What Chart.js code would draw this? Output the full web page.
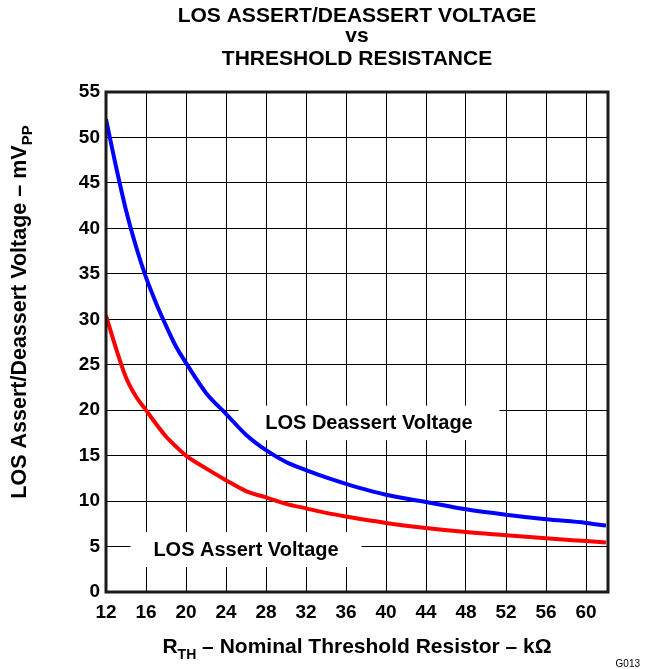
<!DOCTYPE html>
<html>
<head>
<meta charset="utf-8">
<script src="https://cdn.jsdelivr.net/npm/chart.js@4/dist/chart.umd.min.js"></script>
<style>
  html, body { margin: 0; padding: 0; background: #fff; }
  #wrap { width: 649px; height: 669px; }
</style>
</head>
<body>
<div id="wrap"><canvas id="losChart" width="649" height="669"></canvas></div>
<script>
// values (kOhm, mVpp)
const resistance = [12, 13, 14, 15, 16, 17, 18, 19, 20, 22, 24, 26, 28, 30, 32, 34, 36, 40, 44, 48, 52, 56, 60, 62];
const deassertVoltage = [52.0, 46.8, 42.0, 38.0, 34.6, 31.8, 29.3, 27.0, 25.2, 21.9, 19.6, 17.3, 15.6, 14.3, 13.4, 12.6, 11.9, 10.7, 9.9, 9.1, 8.5, 8.0, 7.6, 7.3];
const assertVoltage = [30.4, 26.8, 23.6, 21.5, 20.0, 18.5, 17.1, 16.0, 15.0, 13.6, 12.3, 11.1, 10.4, 9.7, 9.2, 8.7, 8.3, 7.6, 7.05, 6.6, 6.25, 5.9, 5.6, 5.45];
const titleLines = ["LOS ASSERT/DEASSERT VOLTAGE", "vs", "THRESHOLD RESISTANCE"];

const FONT = '"Liberation Sans", Arial, sans-serif';

function toPoints(xs, ys) {
  return xs.map((x, i) => ({ x: x, y: ys[i] }));
}

// draws text made of normal + subscript parts, centred on x
function richText(ctx, parts, x, y, size) {
  const subSize = Math.round(size * 0.68);
  let total = 0;
  parts.forEach(p => {
    ctx.font = `bold ${p.sub ? subSize : size}px ${FONT}`;
    p.w = ctx.measureText(p.t).width;
    total += p.w;
  });
  let cx = x - total / 2;
  ctx.textAlign = 'left';
  ctx.textBaseline = 'alphabetic';
  parts.forEach(p => {
    ctx.font = `bold ${p.sub ? subSize : size}px ${FONT}`;
    ctx.fillText(p.t, cx, p.sub ? y + size * 0.28 : y);
    cx += p.w;
  });
}

const decorations = {
  id: 'decorations',
  beforeDatasetsDraw(chart) {
    const { ctx, scales: { x, y } } = chart;
    // label boxes that cut the grid
    const labels = [
      { text: 'LOS Deassert Voltage', x0: 25.25, x1: 51.35, y0: 16.7, y1: 20.5 },
      { text: 'LOS Assert Voltage', x0: 14.45, x1: 37.55, y0: 2.75, y1: 6.6 }
    ];
    ctx.save();
    labels.forEach(l => {
      const left = x.getPixelForValue(l.x0), right = x.getPixelForValue(l.x1);
      const top = y.getPixelForValue(l.y1), bottom = y.getPixelForValue(l.y0);
      ctx.fillStyle = '#fff';
      ctx.fillRect(left, top, right - left, bottom - top);
      ctx.fillStyle = '#000';
      ctx.font = `bold 20px ${FONT}`;
      ctx.textAlign = 'center';
      ctx.textBaseline = 'middle';
      ctx.fillText(l.text, (left + right) / 2, (top + bottom) / 2 + 1);
    });
    ctx.restore();
  },
  afterDraw(chart) {
    const { ctx, chartArea: a } = chart;
    ctx.save();
    // frame
    ctx.strokeStyle = '#1a1a1a';
    ctx.lineWidth = 3;
    ctx.strokeRect(a.left, a.top, a.right - a.left, a.bottom - a.top);

    ctx.fillStyle = '#000';
    const cx = (a.left + a.right) / 2;
    // title
    ctx.font = `bold 21px ${FONT}`;
    ctx.textAlign = 'center';
    ctx.textBaseline = 'alphabetic';
    ctx.fillText(titleLines[0], cx, 22);
    ctx.fillText(titleLines[1], cx, 42);
    ctx.fillText(titleLines[2], cx, 65);

    // x axis title
    richText(ctx, [
      { t: 'R' }, { t: 'TH', sub: true },
      { t: ' \u2013 Nominal Threshold Resistor \u2013 k\u03A9' }
    ], cx, 653, 21);

    // y axis title
    ctx.save();
    ctx.translate(26, 312);
    ctx.rotate(-Math.PI / 2);
    richText(ctx, [
      { t: 'LOS Assert/Deassert Voltage \u2013 mV' }, { t: 'PP', sub: true }
    ], 0, 0, 21.5);
    ctx.restore();

    // figure id
    ctx.font = `10px ${FONT}`;
    ctx.textAlign = 'right';
    ctx.fillText('G013', 640, 667);
    ctx.restore();
  }
};

const ctx = document.getElementById('losChart').getContext('2d');
const chart = new Chart(ctx, {
  type: 'line',
  data: {
    datasets: [
      {
        label: 'LOS Deassert Voltage',
        data: toPoints(resistance, deassertVoltage),
        borderColor: '#0000ff',
        borderWidth: 4,
        pointRadius: 0,
        cubicInterpolationMode: 'monotone'
      },
      {
        label: 'LOS Assert Voltage',
        data: toPoints(resistance, assertVoltage),
        borderColor: '#ff0000',
        borderWidth: 4,
        pointRadius: 0,
        cubicInterpolationMode: 'monotone'
      }
    ]
  },
  options: {
    responsive: false,
    animation: false,
    layout: { padding: { left: 0, right: 41, top: 92, bottom: 37 } },
    plugins: {
      legend: { display: false },
      title: { display: false },
      tooltip: { enabled: false }
    },
    scales: {
      x: {
        type: 'linear',
        min: 12,
        max: 62.2,
        afterFit: s => { s.height = 40; },
        ticks: {
          stepSize: 4,
          includeBounds: false,
          color: '#000',
          padding: 9,
          maxRotation: 0,
          font: { family: FONT, size: 19, weight: 'bold' }
        },
        grid: { color: '#000', lineWidth: 1, drawTicks: false },
        border: { display: false }
      },
      y: {
        min: 0,
        max: 55,
        afterFit: s => { s.width = 106; },
        ticks: {
          stepSize: 5,
          color: '#000',
          padding: 6,
          font: { family: FONT, size: 19, weight: 'bold' }
        },
        grid: { color: '#000', lineWidth: 1, drawTicks: false },
        border: { display: false }
      }
    }
  },
  plugins: [decorations]
});
</script>
</body>
</html>
